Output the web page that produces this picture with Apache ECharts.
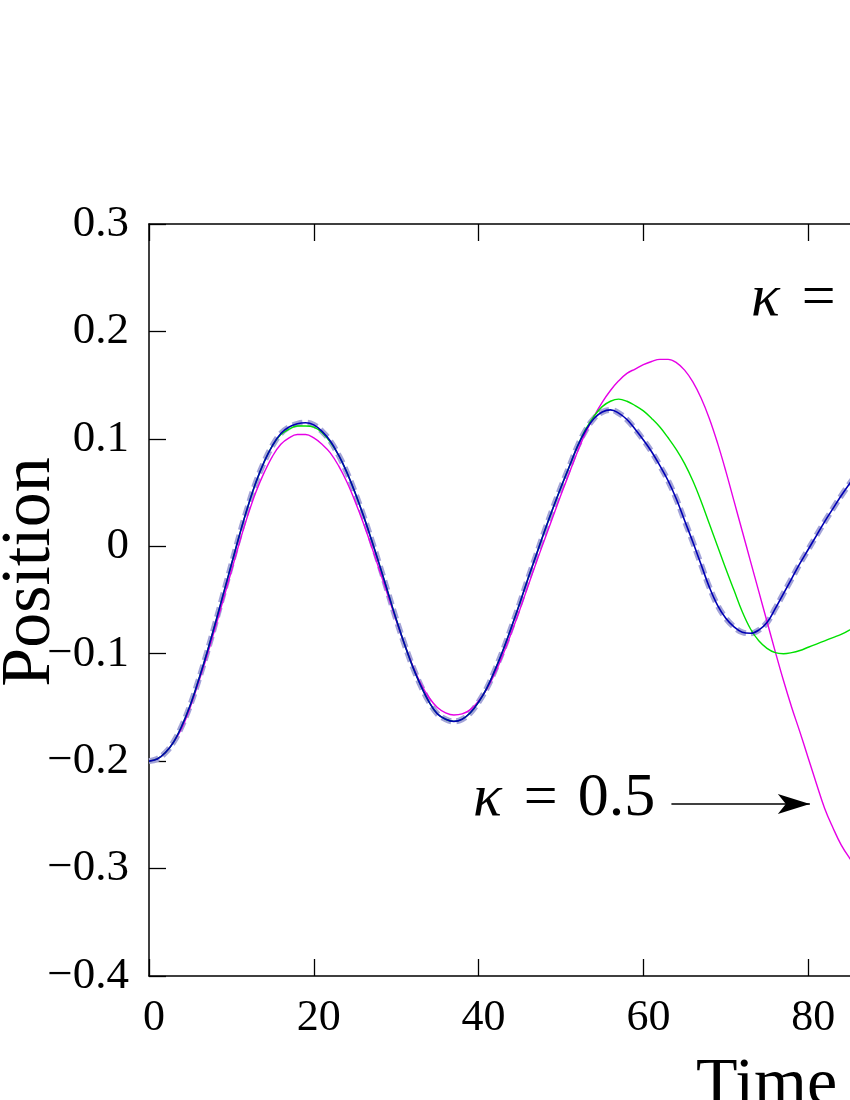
<!DOCTYPE html>
<html>
<head>
<meta charset="utf-8">
<script src="https://cdn.jsdelivr.net/npm/echarts@6/dist/echarts.min.js"></script>
<style>
html,body{margin:0;padding:0;background:#fff;}
#chart{width:850px;height:1100px;}
</style>
</head>
<body>
<div id="chart"></div>
<script>
// Time samples (one per unit of time)
const time = [0,1,2,3,4,5,6,7,8,9,10,11,12,13,14,15,16,17,18,19,20,21,22,23,24,25,26,27,28,29,30,31,32,33,34,35,36,37,38,39,40,41,42,43,44,45,46,47,48,49,50,51,52,53,54,55,56,57,58,59,60,61,62,63,64,65,66,67,68,69,70,71,72,73,74,75,76,77,78,79,80,81,82,83,84,85,86,87,88];

// Reference trajectory (thick dashed)
const reference = [-0.2,-0.198,-0.192,-0.182,-0.167,-0.148,-0.125,-0.1,-0.073,-0.045,-0.017,0.011,0.037,0.06,0.079,0.094,0.105,0.111,0.114,0.115,0.113,0.107,0.098,0.085,0.069,0.05,0.029,0.006,-0.018,-0.043,-0.068,-0.091,-0.112,-0.13,-0.145,-0.156,-0.161,-0.163,-0.161,-0.155,-0.145,-0.132,-0.115,-0.096,-0.075,-0.053,-0.03,-0.008,0.014,0.035,0.055,0.074,0.093,0.108,0.119,0.125,0.127,0.124,0.118,0.109,0.099,0.088,0.075,0.061,0.044,0.024,0.004,-0.017,-0.038,-0.055,-0.067,-0.075,-0.08,-0.081,-0.078,-0.071,-0.058,-0.044,-0.03,-0.016,-0.003,0.01,0.023,0.035,0.047,0.058,0.068,0.077,0.085];

// Blue trajectory
const blueSeries = [-0.2,-0.198,-0.192,-0.182,-0.167,-0.148,-0.125,-0.1,-0.073,-0.045,-0.017,0.011,0.037,0.06,0.079,0.094,0.105,0.111,0.114,0.115,0.113,0.107,0.098,0.085,0.069,0.05,0.029,0.006,-0.018,-0.043,-0.068,-0.091,-0.112,-0.13,-0.145,-0.156,-0.161,-0.163,-0.161,-0.155,-0.145,-0.132,-0.115,-0.096,-0.075,-0.053,-0.03,-0.008,0.014,0.035,0.055,0.074,0.093,0.108,0.119,0.125,0.127,0.124,0.118,0.109,0.099,0.088,0.075,0.061,0.044,0.024,0.004,-0.017,-0.038,-0.055,-0.067,-0.075,-0.08,-0.081,-0.078,-0.071,-0.058,-0.044,-0.03,-0.016,-0.003,0.01,0.023,0.035,0.047,0.058,0.068,0.077,0.085];

// Green trajectory
const greenSeries = [-0.2,-0.198,-0.192,-0.182,-0.167,-0.148,-0.125,-0.1,-0.073,-0.045,-0.017,0.011,0.037,0.06,0.079,0.094,0.104,0.109,0.112,0.112,0.111,0.106,0.097,0.085,0.069,0.05,0.029,0.006,-0.018,-0.043,-0.068,-0.091,-0.112,-0.13,-0.145,-0.156,-0.161,-0.163,-0.161,-0.155,-0.145,-0.132,-0.115,-0.096,-0.075,-0.053,-0.03,-0.008,0.014,0.035,0.055,0.074,0.093,0.109,0.121,0.13,0.135,0.137,0.135,0.131,0.126,0.119,0.111,0.101,0.09,0.077,0.061,0.042,0.021,0.0,-0.021,-0.041,-0.061,-0.077,-0.088,-0.095,-0.099,-0.1,-0.099,-0.097,-0.094,-0.091,-0.088,-0.085,-0.082,-0.078,-0.073,-0.067,-0.06];

// Magenta trajectory (kappa = 0.5)
const magentaSeries = [-0.2,-0.198,-0.192,-0.182,-0.169,-0.15,-0.127,-0.103,-0.077,-0.05,-0.023,0.004,0.029,0.051,0.069,0.084,0.095,0.101,0.104,0.104,0.101,0.095,0.087,0.075,0.06,0.042,0.022,0.0,-0.023,-0.046,-0.069,-0.091,-0.111,-0.128,-0.141,-0.15,-0.155,-0.157,-0.156,-0.152,-0.144,-0.133,-0.118,-0.1,-0.08,-0.059,-0.037,-0.015,0.006,0.027,0.048,0.068,0.088,0.106,0.121,0.134,0.145,0.154,0.161,0.165,0.169,0.172,0.174,0.174,0.171,0.164,0.153,0.138,0.119,0.096,0.07,0.042,0.014,-0.014,-0.042,-0.07,-0.098,-0.125,-0.15,-0.173,-0.197,-0.221,-0.244,-0.262,-0.278,-0.29,-0.3,-0.307,-0.312];

const xTicks = {min: 0, max: 100, step: 20};
const yTicks = {min: -0.4, max: 0.3, step: 0.1};
const arrowFrom = [63.4, -0.24];
const arrowTo = [80.2, -0.24];

const pairs = arr => time.map((t, i) => [t, arr[i]]);
const serif = 'Liberation Serif';
const fmtY = v => {
  const r = Math.round(v * 10) / 10;
  if (r === 0) return '0';
  return (r < 0 ? '\u2212' : '') + Math.abs(r).toFixed(1);
};

const axisLineStyle = {color: '#000', width: 1.5};
const tickStyle = {color: '#000', width: 1.3};
const mathRich = {
  k: {fontFamily: serif, fontStyle: 'italic', fontSize: 60, padding: [0, 22, 0, 0]},
  e: {fontFamily: serif, fontSize: 60, padding: [0, 20, 0, 0]},
  n: {fontFamily: serif, fontSize: 62}
};

const chart = echarts.init(document.getElementById('chart'), null, {renderer: 'canvas'});
chart.setOption({
  animation: false,
  backgroundColor: '#fff',
  grid: {left: 149, top: 224, width: 824, height: 752, containLabel: false, outerBoundsMode: 'none'},
  xAxis: [
    {type: 'value', min: xTicks.min, max: xTicks.max, interval: xTicks.step, position: 'bottom',
     axisLine: {show: true, onZero: false, lineStyle: axisLineStyle},
     axisTick: {show: true, inside: true, length: 17, lineStyle: tickStyle},
     axisLabel: {fontFamily: serif, fontSize: 44, color: '#000', margin: 20, padding: [0, 0, 0, 10]},
     splitLine: {show: false}},
    {type: 'value', min: xTicks.min, max: xTicks.max, interval: xTicks.step, position: 'top',
     axisLine: {show: true, onZero: false, lineStyle: axisLineStyle},
     axisTick: {show: true, inside: true, length: 17, lineStyle: tickStyle},
     axisLabel: {show: false}, splitLine: {show: false}}
  ],
  yAxis: [
    {type: 'value', min: yTicks.min, max: yTicks.max, interval: yTicks.step, position: 'left',
     axisLine: {show: true, onZero: false, lineStyle: axisLineStyle},
     axisTick: {show: true, inside: true, length: 17, lineStyle: tickStyle},
     axisLabel: {fontFamily: serif, fontSize: 45, color: '#000', margin: 20, formatter: fmtY},
     splitLine: {show: false}},
    {type: 'value', min: yTicks.min, max: yTicks.max, interval: yTicks.step, position: 'right',
     axisLine: {show: true, onZero: false, lineStyle: axisLineStyle},
     axisTick: {show: true, inside: true, length: 17, lineStyle: tickStyle},
     axisLabel: {show: false}, splitLine: {show: false}}
  ],
  series: [
    {name: 'reference', type: 'line', data: pairs(reference), showSymbol: false, smooth: 0.4,
     lineStyle: {color: '#a4a4d8', width: 6, type: [10, 5]}, z: 2},
    {name: 'magenta', type: 'line', data: pairs(magentaSeries), showSymbol: false, smooth: 0.4,
     lineStyle: {color: '#e600e6', width: 1.4}, z: 3,
     markLine: {silent: true, symbol: ['none', 'arrow'], symbolSize: [15, 32],
       label: {show: false},
       lineStyle: {color: '#000', width: 1.6, type: 'solid'},
       data: [[{coord: arrowFrom}, {coord: arrowTo}]]}},
    {name: 'green', type: 'line', data: pairs(greenSeries), showSymbol: false, smooth: 0.4,
     lineStyle: {color: '#00e000', width: 1.4}, z: 4},
    {name: 'blue', type: 'line', data: pairs(blueSeries), showSymbol: false, smooth: 0.4,
     lineStyle: {color: '#0000b4', width: 1.6}, z: 5}
  ],
  graphic: [
    {type: 'text', left: 473, top: 768, z: 10,
     style: {text: '{k|\u03ba}{e|=}{n|0.5}', fill: '#000', rich: mathRich}},
    {type: 'text', left: 751, top: 268, z: 10,
     style: {text: '{k|\u03ba}{e|=}{n|1}', fill: '#000', rich: mathRich}},
    {type: 'text', left: 696, top: 1052, z: 10,
     style: {text: 'Time', font: '68px "Liberation Serif"', fill: '#000'}},
    {type: 'text', x: -4, y: 572, rotation: Math.PI / 2, z: 10,
     style: {text: 'Position', font: '70px "Liberation Serif"', fill: '#000', align: 'center', verticalAlign: 'top'}}
  ]
});
</script>
</body>
</html>
